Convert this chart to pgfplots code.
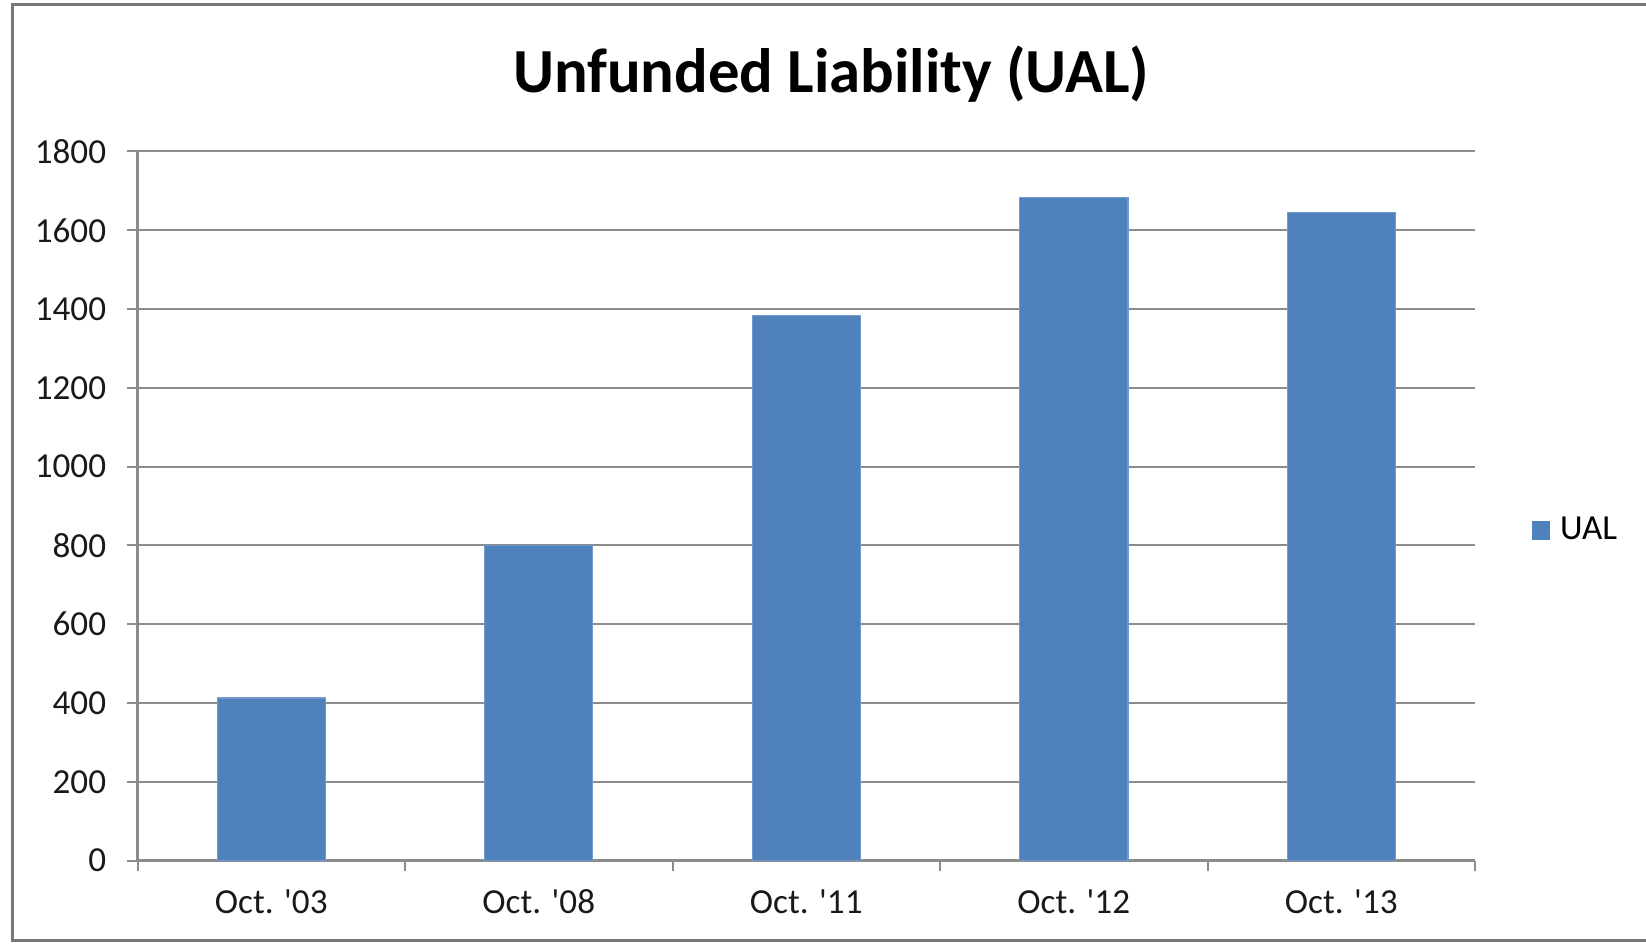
\documentclass[border=0pt]{standalone}
\usepackage{pgfplots}
\pgfplotsset{compat=1.18}
\usepackage{fontspec}
\setmainfont{Carlito}
\definecolor{barblue}{RGB}{79,129,189}
\definecolor{gridgray}{RGB}{140,140,140}
\definecolor{framegray}{RGB}{120,120,120}

\begin{document}
\begin{tikzpicture}[x=1mm,y=1mm]
% page is 164.6mm x 94.4mm (0.1mm per reference pixel)
\useasboundingbox (0,0) rectangle (164.6,94.4);
\draw[framegray, line width=0.3mm] (166,0.4) -- (1.2,0.4) -- (1.2,93.9) -- (166,93.9);
\node[font=\bfseries\fontsize{17.85}{20}\selectfont] at (83.1,87.0) {Unfunded Liability (UAL)};

\begin{axis}[
    at={(13.75mm,8.35mm)},
    anchor=south west,
    scale only axis,
    width=133.75mm,
    height=70.9mm,
    xmin=-0.5, xmax=4.5,
    ymin=0, ymax=1800,
    axis lines=left,
    axis line style={gridgray, line width=0.25mm, -},
    ytick={0,200,...,1800},
    xtick={0,1,2,3,4},
    xticklabels={Oct. \textquotesingle03, Oct. \textquotesingle08, Oct. \textquotesingle11, Oct. \textquotesingle12, Oct. \textquotesingle13},
    major x tick style={draw=none},
    minor xtick={-0.5,0.5,1.5,2.5,3.5,4.5},
    minor x tick style={gridgray, line width=0.2mm},
    minor tick length=1.05mm,
    major tick length=1.1mm,
    tick align=outside,
    y tick style={gridgray, line width=0.2mm},
    ymajorgrids=true,
    grid style={gridgray, line width=0.2mm},
    tick label style={font=\fontsize{10}{12}\selectfont, text=black!90},
    y tick label style={xshift=-0.8mm},
    x tick label style={yshift=-0.6mm},
    /pgf/number format/assume math mode=true,
    /pgf/number format/1000 sep={},
    ybar,
    bar width=0.404,
    legend style={draw=none, at={(1.034,0.465)}, anchor=west,
        font=\fontsize{10}{12}\selectfont},
    legend image code/.code={\fill[barblue] (0cm,-0.8mm) rectangle (1.7mm,0.9mm);},
]
\addplot[fill=barblue, draw=barblue!80!white] coordinates {
    (0, 413)
    (1, 800)
    (2, 1384)
    (3, 1683)
    (4, 1645)
};
\addlegendentry{\hspace{0.3mm}UAL}
\end{axis}
\end{tikzpicture}
\end{document}
